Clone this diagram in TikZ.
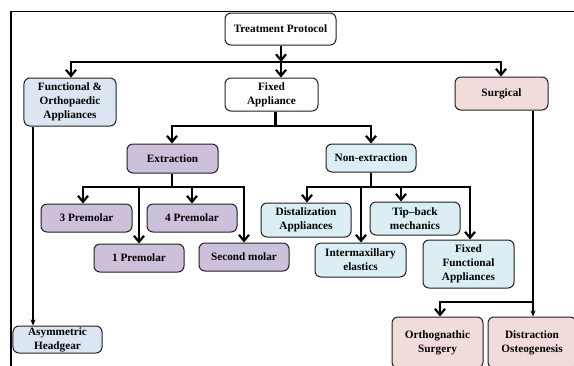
\documentclass[tikz,border=0pt]{standalone}
\usepackage{fontspec}
\setmainfont{Liberation Serif}
\usetikzlibrary{arrows.meta}
\definecolor{cfunc}{HTML}{DCE6F2}
\definecolor{cext}{HTML}{CCC0DA}
\definecolor{cnon}{HTML}{DAEEF3}
\definecolor{csurg}{HTML}{F2DCDB}
\definecolor{cedge}{HTML}{202020}
\tikzset{
  box/.style={draw=cedge, line width=1bp, rounded corners=6bp, align=center,
    font=\fontsize{11.3}{14}\selectfont\bfseries, inner sep=0pt},
  bus/.style={line width=2bp, line cap=rect},
  arr/.style={line width=2bp, -{Straight Barb[length=6bp,width=10bp,line width=2.2bp]}},
  thin/.style={line width=1.3bp},
  tarr/.style={line width=1.3bp, -{Stealth[length=6bp,width=5bp]}},
}
\begin{document}
\begin{tikzpicture}[x=1bp,y=-1bp]
\useasboundingbox (0,0) rectangle (574,365);
\clip (0,0) rectangle (574,365);
\fill[white] (0,0) rectangle (574,365);
% frame
\draw[line width=1.8bp] (11,366) -- (11,11.5) -- (576,11.5);
% nodes
\node[box, fill=white, minimum width=111bp, minimum height=32bp] (tp) at (280.5,29) {Treatment Protocol};
\node[box, fill=cfunc, minimum width=92bp, minimum height=48bp] (func) at (70,102) {Functional \&\\Orthopaedic\\Appliances};
\node[box, fill=white, minimum width=93bp, minimum height=33bp] (fixed) at (271.5,94.5) {Fixed\\Appliance};
\node[box, fill=csurg, minimum width=93bp, minimum height=33bp] (surg) at (501.5,93.5) {Surgical};
\node[box, fill=cext, minimum width=91bp, minimum height=29bp] (ext) at (172.5,158.5) {Extraction};
\node[box, fill=cnon, minimum width=90bp, minimum height=28bp] (non) at (371,158) {Non-extraction};
\node[box, fill=cext, minimum width=91bp, minimum height=28bp] (p3) at (86.5,218) {3 Premolar};
\node[box, fill=cext, minimum width=90bp, minimum height=28bp] (p4) at (192,218) {4 Premolar};
\node[box, fill=cext, minimum width=90bp, minimum height=28bp] (p1) at (139,258) {1 Premolar};
\node[box, fill=cext, minimum width=90bp, minimum height=28bp] (sm) at (244,257) {Second molar};
\node[box, fill=cnon, minimum width=90bp, minimum height=34bp] (dist) at (306,220) {Distalization\\Appliances};
\node[box, fill=cnon, minimum width=90bp, minimum height=33bp] (tip) at (415,218.5) {Tip--back\\mechanics};
\node[box, fill=cnon, minimum width=91bp, minimum height=34bp] (inter) at (360.5,260) {Intermaxillary\\elastics};
\node[box, fill=cnon, minimum width=91bp, minimum height=48bp] (ff) at (468.5,264) {Fixed\\Functional\\Appliances};
\node[box, fill=csurg, minimum width=91bp, minimum height=51bp] (orth) at (437.5,342.5) {Orthognathic\\Surgery};
\node[box, fill=csurg, minimum width=88bp, minimum height=51bp] (distr) at (532,342.5) {Distraction\\Osteogenesis};
\node[box, fill=cfunc, minimum width=89bp, minimum height=27bp] (asym) at (57.5,339.5) {Asymmetric\\Headgear};
% level 1
\coordinate (b0) at (281,62);
\coordinate (b0l) at (71,62);
\coordinate (b0r) at (501,62);
\draw[arr] (tp.south -| b0) -- (b0);
\draw[bus] (b0l) -- (b0r);
\draw[arr] (b0l) -- (b0l |- func.north);
\draw[arr] (b0) -- (b0 |- fixed.north);
\draw[arr] (b0r) -- (b0r |- surg.north);
% level 2
\coordinate (b1) at (275,126);
\coordinate (b1l) at (172,126);
\coordinate (b1r) at (371,126);
\draw[line width=3bp] (fixed.south -| b1) -- (b1);
\draw[bus] (b1l) -- (b1r);
\draw[arr] (b1l) -- (b1l |- ext.north);
\draw[arr] (b1r) -- (b1r |- non.north);
% extraction
\coordinate (e0) at (172,187);
\coordinate (e1) at (83,187);
\coordinate (e2) at (139,187);
\coordinate (e3) at (192,187);
\coordinate (e4) at (244,187);
\draw[line width=2.4bp] (ext.south -| e0) -- (e0);
\draw[bus] (e1) -- (e4);
\draw[arr] (e1) -- (e1 |- p3.north);
\draw[arr] (e2) -- (e2 |- p1.north);
\draw[arr] (e3) -- (e3 |- p4.north);
\draw[arr] (e4) -- (e4 |- sm.north);
% non-extraction
\coordinate (n0) at (371,187);
\coordinate (n1) at (307,187);
\coordinate (n2) at (361,187);
\coordinate (n3) at (401,187);
\coordinate (n4) at (470,187);
\draw[line width=2.4bp] (non.south -| n0) -- (n0);
\draw[bus] (n1) -- (n4);
\draw[arr] (n1) -- (n1 |- dist.north);
\draw[arr] (n2) -- (n2 |- inter.north);
\draw[arr] (n3) -- (n3 |- tip.north);
\draw[arr] (n4) -- (n4 |- ff.north);
% functional
\coordinate (f0) at (33,126);
\draw[tarr] (func.south -| f0) -- (f0 |- asym.north);
% surgical
\coordinate (s0) at (533,302);
\coordinate (s1) at (440,302);
\draw[tarr] (surg.south -| s0) -- (s0 |- distr.north);
\draw[bus] (s0) -- (s1);
\draw[arr] (s1) -- (s1 |- orth.north);
\end{tikzpicture}
\end{document}
